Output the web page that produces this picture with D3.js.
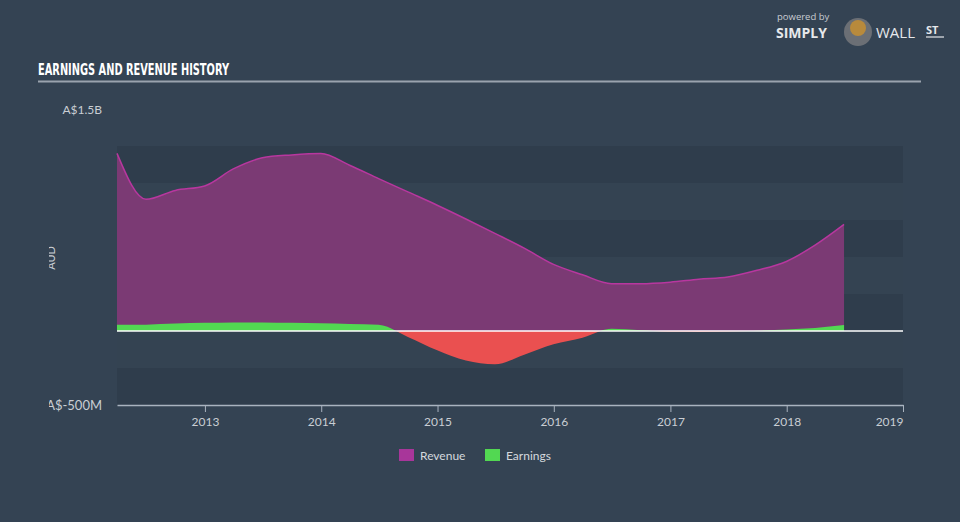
<!DOCTYPE html>
<html><head><meta charset="utf-8">
<script src="https://cdn.jsdelivr.net/npm/d3@7/dist/d3.min.js"></script>
<style>html,body{margin:0;padding:0;background:#344353;}svg{display:block;}</style>
</head><body>
<script>
const dates = ["2012-03-31","2012-06-30","2012-09-30","2012-12-31","2013-03-31","2013-06-30","2013-09-30","2013-12-31","2014-03-31","2014-06-30","2014-09-30","2014-12-31","2015-03-31","2015-06-30","2015-09-30","2015-12-31","2016-03-31","2016-06-30","2016-09-30","2016-12-31","2017-03-31","2017-06-30","2017-09-30","2017-12-31","2018-03-31","2018-06-30"];
const revenue = [1.20,0.89,0.95,0.98,1.095,1.17,1.19,1.20,1.12,1.03,0.94,0.85,0.757,0.66,0.56,0.45,0.38,0.32,0.32,0.33,0.35,0.365,0.41,0.47,0.58,0.72];
const earnings = [0.042,0.043,0.050,0.055,0.058,0.058,0.055,0.052,0.048,0.042,-0.04,-0.13,-0.20,-0.225,-0.16,-0.09,-0.045,0.015,0.005,-0.005,-0.006,-0.004,0.002,0.01,0.02,0.04];
const xTicks = ["2013","2014","2015","2016","2017","2018","2019"];
const yLabels = [1.5, -0.5];
const yLabelText = ["A$1.5B","A$-500M"];
const bandEdges = [-0.5,-0.25,0,0.25,0.5,0.75,1.0,1.25];
const seriesNames = ["Revenue","Earnings"];
const seriesColors = ["#a8369a","#52d852"];

const W=960,H=522;
const svg=d3.select("body").append("svg").attr("width",W).attr("height",H);
svg.append("rect").attr("width",W).attr("height",H).attr("fill","#344353");
const parse=d3.timeParse("%Y-%m-%d");
const data=dates.map((d,i)=>({date:parse(d),rev:revenue[i]*1e9,earn:earnings[i]*1e9}));

const x=d3.scaleTime().domain([parse("2012-03-31"),parse("2019-01-01")]).range([117,903]);
const y=d3.scaleLinear().domain([-0.5e9,1.5e9]).range([405,109]);

// bands
const bands=[];
for(let i=0;i<bandEdges.length-1;i++)bands.push([bandEdges[i],bandEdges[i+1],i]);
svg.selectAll("rect.band").data(bands).enter().append("rect")
  .attr("x",117).attr("width",903-117)
  .attr("y",d=>y(d[1]*1e9)).attr("height",d=>y(d[0]*1e9)-y(d[1]*1e9))
  .attr("fill",d=>d[2]%2===0?"#2f3d4c":"#344352");

// title
svg.append("text").attr("x",38).attr("y",75).text("EARNINGS AND REVENUE HISTORY")
  .attr("font-family","DejaVu Sans Condensed, DejaVu Sans").attr("font-stretch","condensed")
  .attr("font-weight","bold").attr("font-size",15.5).attr("fill","#ffffff")
  .attr("textLength",191).attr("lengthAdjust","spacingAndGlyphs");
svg.append("line").attr("x1",38).attr("x2",921).attr("y1",81.5).attr("y2",81.5)
  .attr("stroke","#9aa3ae").attr("stroke-width",2);

// logo
svg.append("text").attr("x",777).attr("y",20).text("powered by").attr("font-family","Open Sans").attr("font-size",9.5).attr("fill","#c8ccd2");
svg.append("text").attr("x",776).attr("y",38).text("SIMPLY").attr("font-family","Open Sans").attr("font-weight","bold").attr("font-size",14).attr("fill","#e6e8eb");
svg.append("circle").attr("cx",858).attr("cy",32).attr("r",14).attr("fill","#6b6f75");
svg.append("circle").attr("cx",858).attr("cy",28).attr("r",8).attr("fill","#b88a3c");
svg.append("text").attr("x",876).attr("y",38).text("WALL").attr("font-family","Open Sans").attr("font-size",15).attr("fill","#e6e8eb");
svg.append("text").attr("x",926).attr("y",34).text("ST").attr("font-family","Open Sans").attr("font-weight","bold").attr("font-size",11).attr("fill","#e6e8eb");
svg.append("line").attr("x1",926).attr("x2",944).attr("y1",37).attr("y2",37).attr("stroke","#e6e8eb").attr("stroke-width",1.2);

// clips
const defs=svg.append("defs");
defs.append("clipPath").attr("id","ylab").append("rect").attr("x",49).attr("y",0).attr("width",100).attr("height",H);
defs.append("clipPath").attr("id","pos").append("rect").attr("x",0).attr("y",0).attr("width",W).attr("height",y(0));
defs.append("clipPath").attr("id","neg").append("rect").attr("x",0).attr("y",y(0)).attr("width",W).attr("height",H-y(0));

const yl=svg.append("g").attr("clip-path","url(#ylab)");
yl.selectAll("text.yl").data(yLabels).enter().append("text")
  .attr("x",102).attr("y",d=>y(d*1e9)+4.5).attr("text-anchor","end")
  .text((d,i)=>yLabelText[i]).attr("font-family","Lato, Open Sans").attr("font-size",(d,i)=>i===0?12:13).attr("fill","#c9ced4");
yl.append("text").attr("transform","translate(55,258) rotate(-90)").attr("text-anchor","middle")
  .text("AUD").attr("font-family","Lato").attr("font-size",11).attr("fill","#c9ced4");

// revenue area
const curve=d3.curveMonotoneX;
const areaRev=d3.area().x(d=>x(d.date)).y0(y(0)).y1(d=>y(d.rev)).curve(curve);
svg.append("path").datum(data).attr("d",areaRev).attr("fill","#7b3a74");
svg.append("path").datum(data).attr("d",d3.line().x(d=>x(d.date)).y(d=>y(d.rev)).curve(curve))
  .attr("fill","none").attr("stroke","#b8379f").attr("stroke-width",1.5);

// earnings
const areaE=d3.area().x(d=>x(d.date)).y0(y(0)).y1(d=>y(d.earn)).curve(curve);
svg.append("path").datum(data).attr("d",areaE).attr("fill","#52d852").attr("clip-path","url(#pos)");
svg.append("path").datum(data).attr("d",areaE).attr("fill","#ea5050").attr("clip-path","url(#neg)");

// zero line
svg.append("line").attr("x1",117).attr("x2",903).attr("y1",y(0)).attr("y2",y(0)).attr("stroke","#ffffff").attr("stroke-width",1.5);

// x axis
const xAxis=d3.axisBottom(x).tickValues(xTicks.map(t=>parse(t+"-01-01"))).tickFormat(d3.timeFormat("%Y")).tickSize(7).tickSizeOuter(0);
const gx=svg.append("g").attr("transform","translate(0,405)").call(xAxis);
gx.select(".domain").attr("stroke","#a9b3bf").attr("stroke-width",1.5);
gx.selectAll(".tick line").attr("stroke","#a9b3bf");
gx.selectAll(".tick text").attr("fill","#c9ced4").attr("font-family","Lato, Open Sans").attr("font-size",12).attr("dy","0.9em");
gx.selectAll(".tick text").filter((d,i)=>i===xTicks.length-1).attr("text-anchor","end");

// legend
const lg=svg.append("g");
const lx=[399,485];
seriesNames.forEach((n,i)=>{
  lg.append("rect").attr("x",lx[i]).attr("y",449).attr("width",15).attr("height",12).attr("fill",seriesColors[i]);
  lg.append("text").attr("x",lx[i]+21).attr("y",460).text(n).attr("font-family","Lato, Open Sans").attr("font-size",12).attr("fill","#d5d9de");
});
</script>
</body></html>
